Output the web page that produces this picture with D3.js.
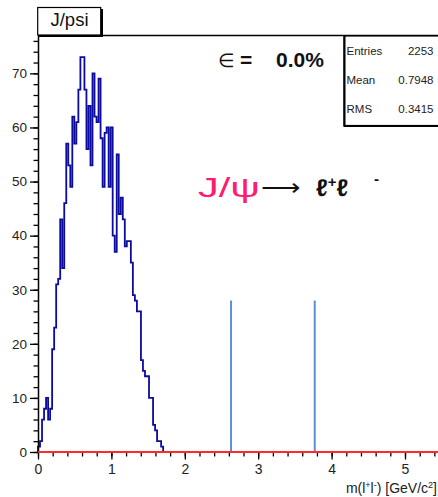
<!DOCTYPE html>
<html>
<head>
<meta charset="utf-8">
<script src="https://cdn.jsdelivr.net/npm/d3@7"></script>
<style>
  body { margin: 0; background: #fff; overflow: hidden; }
  svg { display: block; }
  text { font-family: "Liberation Sans", Arial, sans-serif; }
</style>
</head>
<body>
<div class="chart"></div>
<script>
// histogram of m(l+l-) for J/psi, 200 bins over 0..5.5
const binWidth = 0.0275;
const counts = [1, 2, 6, 8, 10, 6, 8, 19, 23, 31, 32,
    43, 34, 46, 57, 53, 49, 62, 57, 61, 67,
    73, 73, 67, 56, 64, 53, 70, 62, 61, 69,
    58, 49, 59, 60, 49, 60, 40, 37, 55, 44,
    47, 43, 38, 39, 39, 35, 29, 28, 26, 26,
    17, 15, 14, 14, 10, 10, 5, 4, 2, 2, 1];
const windowEdges = [2.63, 3.77];
const windowTop = 28;
const statLabels = ["Entries", "Mean", "RMS"];
const statValues = ["2253", "0.7948", "0.3415"];
const xTicks = [0, 1, 2, 3, 4, 5];
const yTicks = [0, 10, 20, 30, 40, 50, 60, 70];

const width = 438;
const height = 497;

const svg = d3.select('.chart')
    .append('svg')
    .attr('width', width)
    .attr('height', height);

const x = d3.scaleLinear().domain([0, 5.5]).range([38, 441.7]);
const y = d3.scaleLinear().domain([0, 77]).range([452, 35.5]);

// frame top
svg.append('line')
    .attr('x1', x(0)).attr('x2', x(5.5))
    .attr('y1', y(77)).attr('y2', y(77))
    .attr('stroke', '#000').attr('stroke-width', 1.5);

// histogram outline
const pts = [{lo: 0, v: 0}].concat(counts.map((c, i) => ({lo: i * binWidth, v: c})));
pts.push({lo: counts.length * binWidth, v: 0});
const line = d3.line()
    .x(d => x(d.lo))
    .y(d => y(d.v))
    .curve(d3.curveStepAfter);
svg.append('path')
    .datum(pts)
    .attr('d', line)
    .attr('fill', 'none')
    .attr('stroke', '#0b0ba0')
    .attr('stroke-width', 1.8);

// mass window lines
svg.selectAll('line.window')
    .data(windowEdges)
    .enter()
    .append('line')
    .attr('class', 'window')
    .attr('x1', d => x(d)).attr('x2', d => x(d))
    .attr('y1', y(0)).attr('y2', y(windowTop))
    .attr('stroke', '#5b8fd4')
    .attr('stroke-width', 2);

// y axis: minor + major
svg.append('g')
    .attr('transform', `translate(${x(0)},0)`)
    .call(d3.axisLeft(y).tickValues(d3.range(0, 77, 2)).tickSize(4.5).tickFormat(''))
    .call(g => g.select('.domain').remove())
    .selectAll('line').attr('stroke', '#000').attr('stroke-width', 1.3);
const yAxis = svg.append('g')
    .attr('transform', `translate(${x(0)},0)`)
    .call(d3.axisLeft(y).tickValues(yTicks).tickSize(8).tickPadding(3).tickSizeOuter(0));
yAxis.select('.domain').attr('stroke', '#000').attr('stroke-width', 1.5);
yAxis.selectAll('line').attr('stroke', '#000').attr('stroke-width', 1.3);
yAxis.selectAll('text')
    .attr('font-family', '"Liberation Sans", Arial, sans-serif')
    .attr('font-size', 13.5)
    .attr('fill', '#222');

// x axis: minor + major
svg.append('g')
    .attr('transform', `translate(0,${y(0)})`)
    .call(d3.axisBottom(x).tickValues(d3.range(0, 5.5, 0.2)).tickSize(4.5).tickFormat(''))
    .call(g => g.select('.domain').remove())
    .selectAll('line').attr('stroke', '#000').attr('stroke-width', 1.3);
const xAxis = svg.append('g')
    .attr('transform', `translate(0,${y(0)})`)
    .call(d3.axisBottom(x).tickValues(xTicks).tickFormat(d3.format('d'))
        .tickSize(7.5).tickPadding(5).tickSizeOuter(0));
xAxis.select('.domain').remove();
xAxis.selectAll('line').attr('stroke', '#000').attr('stroke-width', 1.3);
xAxis.selectAll('text')
    .attr('font-family', '"Liberation Sans", Arial, sans-serif')
    .attr('font-size', 14)
    .attr('fill', '#222');

// red zero line
svg.append('line')
    .attr('x1', x(0)).attr('x2', x(5.5))
    .attr('y1', y(0)).attr('y2', y(0))
    .attr('stroke', '#ff2a2a').attr('stroke-width', 2);

// x title
const xt = svg.append('text')
    .attr('x', 437).attr('y', 493)
    .attr('text-anchor', 'end')
    .attr('font-size', 14)
    .attr('fill', '#222');
xt.append('tspan').text('m(l');
xt.append('tspan').attr('baseline-shift', 'super').attr('font-size', 9).text('+');
xt.append('tspan').text('l');
xt.append('tspan').attr('baseline-shift', 'super').attr('font-size', 9).text('-');
xt.append('tspan').text(') [GeV/c');
xt.append('tspan').attr('baseline-shift', 'super').attr('font-size', 9).text('2');
xt.append('tspan').text(']');

// title box
svg.append('rect')
    .attr('x', 37.7).attr('y', 7.5)
    .attr('width', 63).attr('height', 27.5)
    .attr('fill', '#fff').attr('stroke', '#000').attr('stroke-width', 1.2);
svg.append('path')
    .attr('d', 'M39,36 H102 V9')
    .attr('fill', 'none').attr('stroke', '#000').attr('stroke-width', 2);
svg.append('text')
    .attr('x', 69.5).attr('y', 26)
    .attr('text-anchor', 'middle')
    .attr('font-size', 18.5)
    .attr('fill', '#111')
    .text('J/psi');

// stats box
svg.append('rect')
    .attr('x', 344).attr('y', 36).attr('width', 130).attr('height', 89.5)
    .attr('fill', '#fff').attr('stroke', '#000').attr('stroke-width', 1.2);
svg.append('path')
    .attr('d', 'M344.5,36 V126 H470')
    .attr('fill', 'none').attr('stroke', '#000').attr('stroke-width', 2);
svg.selectAll('text.slabel')
    .data(statLabels)
    .enter()
    .append('text')
    .attr('class', 'slabel')
    .attr('x', 346.5)
    .attr('y', (d, i) => 55 + i * 29)
    .attr('font-size', 11.5)
    .attr('fill', '#222')
    .text(d => d);
svg.selectAll('text.svalue')
    .data(statValues)
    .enter()
    .append('text')
    .attr('class', 'svalue')
    .attr('x', 433.5)
    .attr('y', (d, i) => 55 + i * 29)
    .attr('text-anchor', 'end')
    .attr('font-size', 11.5)
    .attr('fill', '#222')
    .text(d => d);

// efficiency label
svg.append('text')
    .attr('x', 218).attr('y', 67)
    .attr('font-family', '"DejaVu Sans", sans-serif')
    .attr('font-size', 19)
    .attr('fill', '#111')
    .text('\u2208');
svg.append('text')
    .attr('x', 240).attr('y', 67)
    .attr('font-size', 21)
    .attr('font-weight', 'bold')
    .attr('fill', '#111')
    .text('=');
svg.append('text')
    .attr('x', 276).attr('y', 67)
    .attr('font-size', 21)
    .attr('font-weight', 'bold')
    .attr('fill', '#111')
    .text('0.0%');

// decay label
svg.append('text')
    .attr('x', 198).attr('y', 197)
    .attr('font-family', '"DejaVu Sans", sans-serif')
    .attr('font-size', 28)
    .attr('fill', '#ff1a72')
    .attr('textLength', 62).attr('lengthAdjust', 'spacingAndGlyphs')
    .text('J/\u03c8');
svg.append('text')
    .attr('x', 261).attr('y', 196)
    .attr('font-family', '"DejaVu Sans", sans-serif')
    .attr('font-size', 24)
    .attr('fill', '#111')
    .attr('textLength', 39).attr('lengthAdjust', 'spacingAndGlyphs')
    .text('\u27f6');
const dec = svg.append('text')
    .attr('x', 316).attr('y', 196)
    .attr('font-family', '"DejaVu Sans", sans-serif')
    .attr('font-size', 24)
    .attr('font-weight', 'bold')
    .attr('fill', '#111');
dec.append('tspan').text('\u2113');
dec.append('tspan').attr('dy', -9).attr('font-size', 15).text('+');
dec.append('tspan').attr('dy', 9).text('\u2113');
svg.append('text')
    .attr('x', 374).attr('y', 184)
    .attr('font-family', '"DejaVu Sans", sans-serif')
    .attr('font-size', 15)
    .attr('font-weight', 'bold')
    .attr('fill', '#111')
    .text('-');
</script>
</body>
</html>
